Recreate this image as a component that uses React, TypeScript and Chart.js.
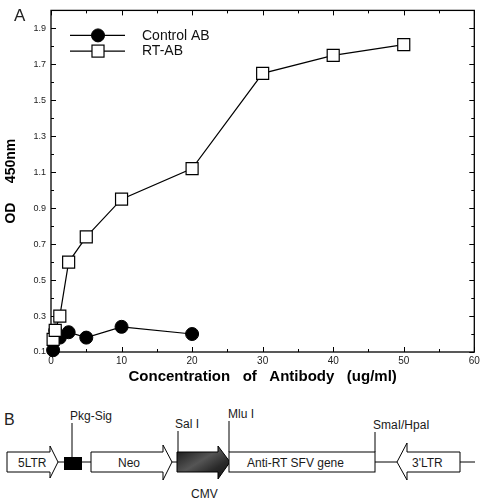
import React, { useEffect, useRef } from "react";
import { Chart, registerables } from "chart.js";

Chart.register(...registerables);

// ---- data ----
const seriesLabels = ["Control AB", "RT-AB"];
const controlX = [0.3, 0.6, 1.25, 2.5, 5, 10, 20];
const controlY = [0.11, 0.22, 0.18, 0.21, 0.18, 0.24, 0.2];
const rtX = [0.3, 0.6, 1.25, 2.5, 5, 10, 20, 30, 40, 50];
const rtY = [0.17, 0.22, 0.3, 0.6, 0.74, 0.95, 1.12, 1.65, 1.75, 1.81];
const yTickValues = [0.1, 0.3, 0.5, 0.7, 0.9, 1.1, 1.3, 1.5, 1.7, 1.9];
const yMinorValues = [0.2, 0.4, 0.6, 0.8, 1.0, 1.2, 1.4, 1.6, 1.8];
const xTickValues = [0, 10, 20, 30, 40, 50, 60];
const xMinorValues = [5, 15, 25, 35, 45, 55];
const xTitle = "Concentration   of   Antibody   (ug/ml)";
const yTitle = "OD     450nm";

const FONT = '"Liberation Sans", Arial, Helvetica, sans-serif';

const frameTicksPlugin = {
  id: "frameTicks",
  beforeDatasetsDraw(chart: any) {
    const { ctx, chartArea: a, scales } = chart;
    const xs = scales.x;
    const ys = scales.y;
    ctx.save();
    ctx.strokeStyle = "#000";
    ctx.lineWidth = 1.3;
    ctx.strokeRect(a.left, a.top, a.right - a.left, a.bottom - a.top);
    ctx.lineWidth = 1;
    ctx.beginPath();
    const yTick = (v: number, len: number) => {
      const py = Math.round(ys.getPixelForValue(v)) + 0.5;
      ctx.moveTo(a.left, py);
      ctx.lineTo(a.left + len, py);
      ctx.moveTo(a.right, py);
      ctx.lineTo(a.right - len, py);
    };
    const xTick = (v: number, len: number) => {
      const px = Math.round(xs.getPixelForValue(v)) + 0.5;
      ctx.moveTo(px, a.bottom);
      ctx.lineTo(px, a.bottom - len);
      ctx.moveTo(px, a.top);
      ctx.lineTo(px, a.top + len);
    };
    yTickValues.forEach((v) => yTick(v, 5));
    yMinorValues.forEach((v) => yTick(v, 3));
    xTickValues.forEach((v) => xTick(v, 5));
    xMinorValues.forEach((v) => xTick(v, 3));
    ctx.stroke();
    ctx.restore();
  },
};

const legendPlugin = {
  id: "lineLegend",
  afterDatasetsDraw(chart: any) {
    const { ctx, chartArea: a } = chart;
    chart.data.datasets.forEach((ds: any, i: number) => {
      const y = a.top + 25 + i * 15.7;
      const x0 = a.left + 19;
      const x1 = a.left + 74;
      const xm = a.left + 47;
      ctx.save();
      ctx.strokeStyle = "#000";
      ctx.lineWidth = 1.2;
      ctx.beginPath();
      ctx.moveTo(x0, y);
      ctx.lineTo(x1, y);
      ctx.stroke();
      ctx.fillStyle = ds.pointBackgroundColor;
      ctx.lineWidth = ds.pointBorderWidth;
      if (ds.pointStyle === "circle") {
        ctx.beginPath();
        ctx.arc(xm, y, ds.pointRadius, 0, Math.PI * 2);
        ctx.fill();
        ctx.stroke();
      } else {
        const h = ds.pointRadius * Math.SQRT1_2;
        ctx.fillRect(xm - h, y - h, 2 * h, 2 * h);
        ctx.strokeRect(xm - h, y - h, 2 * h, 2 * h);
      }
      ctx.fillStyle = "#111";
      ctx.font = `14px ${FONT}`;
      ctx.textBaseline = "middle";
      ctx.textAlign = "left";
      ctx.fillText(ds.label, a.left + 91, y + 0.5);
      ctx.restore();
    });
  },
};

function DiagramB() {
  const t = { fontFamily: FONT, fontSize: 12, fill: "#1a1a1a" } as any;
  const stroke = { stroke: "#000", strokeWidth: 1, fill: "none" } as any;
  return (
    <svg
      width={484}
      height={110}
      viewBox="0 390 484 110"
      style={{ position: "absolute", left: 0, top: 390 }}
    >
      <defs>
        <linearGradient id="cmvg" x1="0" y1="0" x2="1" y2="1">
          <stop offset="0" stopColor="#111" />
          <stop offset="0.45" stopColor="#555" />
          <stop offset="0.7" stopColor="#2a2a2a" />
          <stop offset="1" stopColor="#111" />
        </linearGradient>
      </defs>
      <text x={4} y={425} style={{ fontFamily: FONT, fontSize: 16 }} fill="#222">B</text>
      {/* backbone segments */}
      <line x1={58} y1={462} x2={64} y2={462} {...stroke} />
      <line x1={82} y1={462} x2={91} y2={462} {...stroke} />
      <line x1={171} y1={462} x2={177} y2={462} {...stroke} />
      <line x1={375} y1={462} x2={397} y2={462} {...stroke} />
      <line x1={460} y1={462} x2={475} y2={462} {...stroke} />
      {/* 5LTR */}
      <polygon points="7,452 50,452 50,446 58,462 50,478 50,472 7,472" fill="#fff" stroke="#000" strokeWidth={1} />
      <text x={18} y={467} {...t}>5LTR</text>
      {/* Pkg-Sig box */}
      <rect x={64} y={457} width={18} height={13} fill="#000" />
      <line x1={72} y1={423} x2={72} y2={457} {...stroke} />
      <text x={70} y={420} {...t}>Pkg-Sig</text>
      {/* Neo */}
      <polygon points="91,452 163,452 163,445 172,462 163,480 163,472 91,472" fill="#fff" stroke="#000" strokeWidth={1} />
      <text x={118} y={467} {...t}>Neo</text>
      {/* CMV */}
      <polygon points="177,452 218,452 218,446 230,462 218,479 218,472 177,472" fill="url(#cmvg)" stroke="#000" strokeWidth={1} />
      <line x1={178} y1={431} x2={178} y2={452} {...stroke} />
      <text x={175} y={428} {...t}>Sal I</text>
      <text x={191} y={498} {...t}>CMV</text>
      {/* Anti-RT SFV gene */}
      <rect x={229} y={452} width={146} height={20} fill="#fff" stroke="#000" strokeWidth={1} />
      <line x1={229} y1={421} x2={229} y2={452} {...stroke} />
      <text x={228} y={418} {...t}>Mlu I</text>
      <text x={247} y={467} {...t}>Anti-RT SFV gene</text>
      <line x1={375} y1={432} x2={375} y2={452} {...stroke} />
      <text x={373} y={429} {...t}>SmaI/HpaI</text>
      {/* 3'LTR */}
      <polygon points="397,462 407,443 407,452 460,452 460,472 407,472 407,480" fill="#fff" stroke="#000" strokeWidth={1} />
      <text x={412} y={467} {...t}>3'LTR</text>
    </svg>
  );
}

export default function App() {
  const canvasRef = useRef<HTMLCanvasElement | null>(null);

  useEffect(() => {
    if (!canvasRef.current) return;
    const chart = new Chart(canvasRef.current, {
      type: "line",
      data: {
        datasets: [
          {
            label: seriesLabels[0],
            data: controlX.map((x, i) => ({ x, y: controlY[i] })),
            borderColor: "#000",
            borderWidth: 1.2,
            pointStyle: "circle",
            pointRadius: 6.5,
            pointBackgroundColor: "#000",
            pointBorderColor: "#000",
            pointBorderWidth: 1,
            order: 1,
            clip: false,
          } as any,
          {
            label: seriesLabels[1],
            data: rtX.map((x, i) => ({ x, y: rtY[i] })),
            borderColor: "#000",
            borderWidth: 1.2,
            pointStyle: "rect",
            pointRadius: 8.5,
            pointBackgroundColor: "#fff",
            pointBorderColor: "#000",
            pointBorderWidth: 1.2,
            order: 0,
            clip: false,
          } as any,
        ],
      },
      options: {
        animation: false,
        responsive: false,
        devicePixelRatio: 1,
        layout: { padding: { left: 0, right: 9, top: 10, bottom: 0 } },
        plugins: { legend: { display: false }, tooltip: { enabled: false } },
        scales: {
          x: {
            type: "linear",
            min: 0,
            max: 60,
            grid: { display: false, drawTicks: false },
            border: { display: false },
            afterBuildTicks: (s: any) => {
              s.ticks = xTickValues.map((v) => ({ value: v }));
            },
            afterFit: (s: any) => {
              s.height = 38;
            },
            ticks: {
              autoSkip: false,
              maxRotation: 0,
              padding: 3,
              color: "#222",
              font: { family: FONT, size: 10 },
              callback: (v: any) => String(v),
            },
            title: {
              display: true,
              text: xTitle,
              color: "#000",
              font: { family: FONT, size: 15, weight: "bold" },
              padding: { top: 0, bottom: 4 },
            },
          },
          y: {
            type: "linear",
            min: 0.1,
            max: 2.0,
            grid: { display: false, drawTicks: false },
            border: { display: false },
            afterBuildTicks: (s: any) => {
              s.ticks = yTickValues.map((v) => ({ value: v }));
            },
            afterFit: (s: any) => {
              s.width = 51;
            },
            ticks: {
              autoSkip: false,
              padding: 5,
              color: "#222",
              font: { family: FONT, size: 9 },
              callback: (v: any) => Number(v).toFixed(1),
            },
            title: {
              display: true,
              text: yTitle,
              color: "#000",
              font: { family: FONT, size: 14, weight: "bold" },
              padding: { top: 3, bottom: 0 },
            },
          },
        },
      } as any,
      plugins: [frameTicksPlugin, legendPlugin],
    });
    return () => chart.destroy();
  }, []);

  return (
    <div style={{ position: "absolute", left: 0, top: 0, width: 484, height: 500, background: "#fff" }}>
      <canvas ref={canvasRef} width={484} height={390} style={{ position: "absolute", left: 0, top: 0 }} />
      <div style={{ position: "absolute", left: 14, top: 6, fontFamily: FONT, fontSize: 17, color: "#222" }}>A</div>
      <DiagramB />
    </div>
  );
}
